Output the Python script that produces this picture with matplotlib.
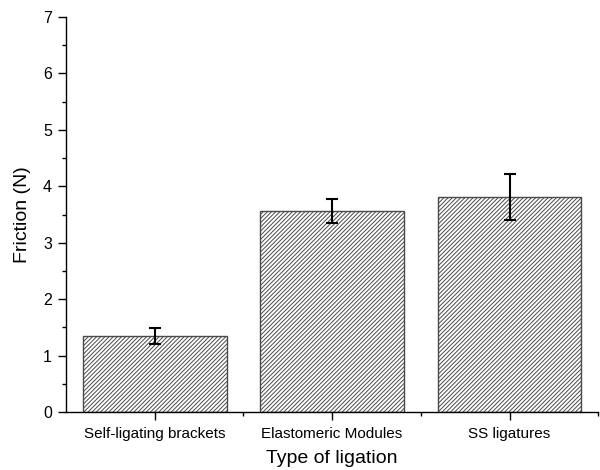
import matplotlib
matplotlib.use("Agg")
import matplotlib.pyplot as plt
from matplotlib.ticker import MultipleLocator, FixedLocator

plt.rcParams['font.family'] = ['Liberation Sans', 'DejaVu Sans']
plt.rcParams['hatch.color'] = '#7c7c7c'
plt.rcParams['hatch.linewidth'] = 0.7

categories = ["Self-ligating brackets", "Elastomeric Modules", "SS ligatures"]
friction = [1.35, 3.56, 3.81]
friction_err = [0.14, 0.21, 0.40]

fig = plt.figure(figsize=(6.0, 4.7), dpi=100)
ax = fig.add_axes([0.11, 0.1234, 0.887, 0.8404])

x = list(range(len(categories)))
ax.bar(x, friction, width=0.81, color='white', edgecolor='#4a4a4a',
       linewidth=1.0, hatch='////////', zorder=2)
ax.errorbar(x, friction, yerr=friction_err, fmt='none', ecolor='black',
            elinewidth=1.5, capsize=4.5, capthick=1.5, zorder=3)

ax.set_xlim(-0.5, len(categories) - 0.5)
ax.set_ylim(0, 7)
ax.set_xticks(x)
ax.set_xticklabels(categories, fontsize=11)
ax.xaxis.set_minor_locator(FixedLocator([i + 0.5 for i in x]))
ax.yaxis.set_major_locator(MultipleLocator(1))
ax.yaxis.set_minor_locator(MultipleLocator(0.5))
ax.tick_params(axis='y', labelsize=11.5, pad=4)
ax.tick_params(axis='x', pad=5)

ax.tick_params(which='major', direction='out', length=6, width=1.0, color='black')
ax.tick_params(which='minor', direction='out', length=3, width=1.0, color='black')

for side in ('top', 'right'):
    ax.spines[side].set_visible(False)
for side in ('left', 'bottom'):
    ax.spines[side].set_linewidth(1.0)
    ax.spines[side].set_color('black')

ax.set_xlabel("Type of ligation", fontsize=14, labelpad=6)
ax.set_ylabel("Friction (N)", fontsize=14, labelpad=9)

fig.savefig("out.png", dpi=100)
